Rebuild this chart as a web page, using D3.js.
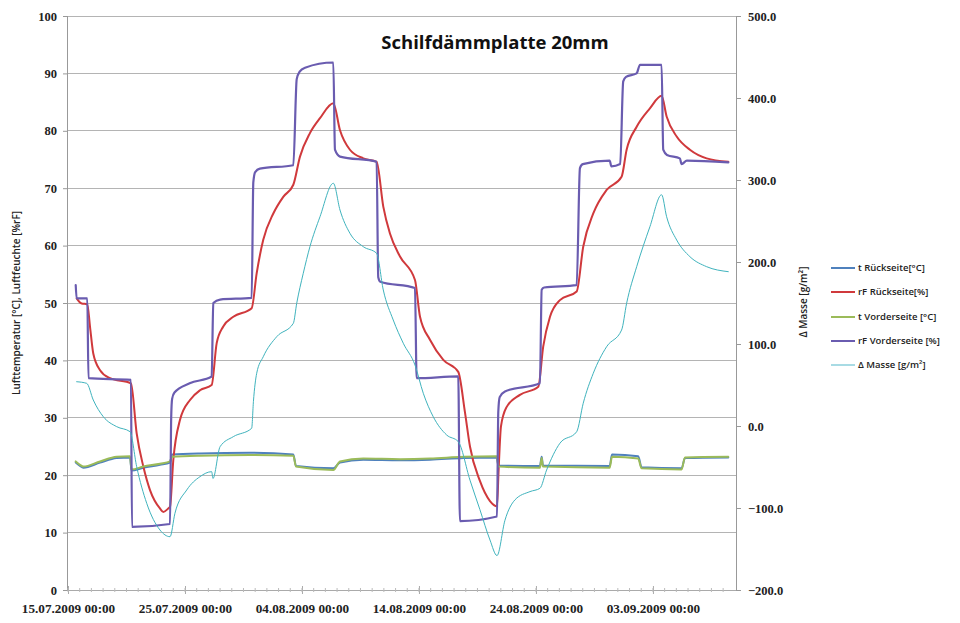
<!DOCTYPE html>
<html>
<head>
<meta charset="utf-8">
<script src="https://cdn.jsdelivr.net/npm/d3@7"></script>
<style>
  html, body { margin: 0; padding: 0; background: #fff; }
  svg { display: block; }
</style>
</head>
<body>
<svg id="chart" width="960" height="623"></svg>
<script>
// ---------------- DATA ----------------
const title = "Schilfdämmplatte 20mm";
const startDay = "2009-07-15";
const xTickDays = [0, 10, 20, 30, 40, 50];
const leftTicks = [0, 10, 20, 30, 40, 50, 60, 70, 80, 90, 100];
const rightTicks = [-200, -100, 0, 100, 200, 300, 400, 500];
const seriesNames = ["t Rückseite[°C]", "rF Rückseite[%]", "t Vorderseite [°C]", "rF Vorderseite [%]", "Δ Masse [g/m²]"];

// rF Vorderseite [%]
const rfV_days = [0.66,0.74,1.65,1.75,5.38,5.47,8.72,8.82,8.9,9.1,10.4,12.28,12.42,13.0,15.7,15.84,16.0,16.4,19.26,19.55,19.8,20.26,22.68,22.82,23.25,26.38,26.52,26.7,29.66,29.8,33.36,33.5,36.67,36.78,36.9,37.35,40.34,40.49,40.7,43.48,43.76,44.0,46.3,46.45,47.2,47.46,47.7,48.6,48.9,50.74,50.88,51.2,52.3,52.45,52.9,56.44];
const rfV_vals = [53.1,50.8,50.8,36.9,36.6,11.0,11.5,30.0,33.3,34.4,36.0,37.2,50.0,50.6,50.9,71.0,72.8,73.4,74.0,89.0,90.3,91.0,91.9,76.7,75.5,74.6,54.5,53.7,52.6,36.9,37.2,12.0,12.8,31.0,33.6,34.6,36.0,52.3,52.7,53.1,73.5,74.2,74.8,73.8,74.2,88.6,89.4,90.0,91.5,91.5,76.7,75.8,75.2,74.2,74.8,74.5];

// rF Rückseite [%]
const rfR_days = [0.74,1.17,1.65,1.88,2.16,2.74,3.59,5.38,5.87,6.44,7.01,7.86,8.15,8.57,8.72,9.0,9.57,10.43,11.28,12.28,12.71,13.27,14.13,15.7,16.13,16.69,17.55,18.4,19.26,19.83,20.68,21.54,22.68,23.25,24.1,25.24,26.38,26.95,27.52,28.38,29.66,30.09,30.94,32.08,33.36,33.93,34.36,35.21,36.07,36.67,36.8,37.01,37.5,38.63,40.2,40.62,41.2,42.05,43.48,44.04,44.9,46.04,47.32,47.75,48.61,49.74,50.74,51.17,52.03,53.16,54.59,56.44];
const rfR_vals = [50.8,49.9,49.8,45.9,41.2,38.3,36.9,36.0,27.3,21.5,17.4,14.2,13.6,14.2,14.5,22.6,29.6,33.1,34.8,35.7,43.0,45.9,47.6,49.1,55.2,61.0,65.6,68.5,70.6,75.5,79.6,82.2,84.8,80.1,76.7,75.2,74.6,66.8,62.1,58.1,54.0,47.6,43.6,40.1,38.0,31.0,25.0,19.0,15.5,14.6,20.5,28.5,31.9,34.0,35.4,42.4,47.6,50.5,52.0,59.8,65.6,69.7,72.0,76.7,80.7,83.9,86.1,82.5,79.0,76.7,75.2,74.6];

// t Vorderseite [°C]
const tV_days = [0.66,1.03,1.31,2.74,4.16,5.3,5.43,6.44,7.86,8.72,8.89,11.28,15.56,19.26,19.49,22.68,23.25,25.24,28.38,30.94,33.79,36.64,36.8,40.34,40.49,40.6,46.3,46.5,48.74,49.03,52.45,52.74,56.44];
const tV_vals = [22.4,21.8,21.5,22.4,23.2,23.3,21.0,21.5,22.0,22.4,23.2,23.4,23.5,23.4,21.5,20.9,22.4,22.9,22.8,22.9,23.2,23.3,21.5,21.3,23.0,21.5,21.3,23.2,22.9,21.2,21.0,23.1,23.2];

// t Rückseite [°C]
const tR_days = [0.66,1.03,1.31,2.74,4.16,5.3,5.43,6.44,7.86,8.72,8.89,11.28,15.56,19.26,19.49,22.68,23.25,25.24,28.38,30.94,33.79,36.64,36.8,40.34,40.49,40.6,46.3,46.5,48.74,49.03,52.45,52.74,56.44];
const tR_vals = [22.2,21.6,21.3,22.2,23.0,23.1,20.8,21.3,21.8,22.2,23.6,23.8,23.9,23.6,21.6,21.2,22.2,22.7,22.6,22.7,23.0,23.1,21.7,21.6,23.2,21.7,21.6,23.6,23.3,21.4,21.2,23.0,23.1];

// Δ Masse [g/m²]
const dm_days = [0.74,1.6,2.16,3.02,4.16,5.3,5.87,6.73,7.86,8.72,9.14,10.15,11.28,12.28,12.39,13.0,14.13,15.7,15.85,16.13,16.69,17.84,19.26,19.55,20.11,20.68,21.54,22.68,23.25,24.1,25.24,26.38,26.95,27.8,28.66,29.66,30.37,31.22,32.37,33.36,34.36,35.21,36.07,36.67,37.35,38.21,39.49,40.34,40.91,42.05,43.48,44.04,44.9,46.04,47.32,47.75,48.61,49.74,50.74,51.17,52.03,53.16,54.59,56.44];
const dm_vals = [54.0,52.0,31.7,11.3,-0.8,-6.9,-49.6,-94.3,-126.8,-135,-106.5,-78,-61.8,-55.7,-64,-25.2,-13,-2.8,30,64.3,84.5,108.9,125.2,149.6,186.2,218.7,255.2,296.0,263.4,235,218.7,210.6,165.9,129.3,100.9,74.4,39.9,11.3,-11,-19.1,-66,-102,-139,-158,-115,-90,-80,-76,-53.7,-21,-7,27.7,64.3,96.7,117,149.6,194.3,243,282,255.2,226.8,206.5,194.3,188.2];

// ---------------- CHART ----------------
const svg = d3.select("#chart");
const plot = { left: 68, right: 736, top: 16, bottom: 590 };
const t0 = Date.UTC(2009, 6, 15);
const dayMs = 864e5;
const toDate = d => new Date(t0 + d * dayMs);

const x = d3.scaleUtc().domain([toDate(0), toDate(57.1)]).range([plot.left, plot.right]);
const yL = d3.scaleLinear().domain([0, 100]).range([plot.bottom, plot.top]);
const yR = d3.scaleLinear().domain([-200, 500]).range([plot.bottom, plot.top]);

const colors = {
  tR: "#4f81bd",
  rfR: "#d0393c",
  tV: "#9bbb59",
  rfV: "#6a5cb0",
  dm: "#3fb3bd"
};
const tickFont = "'Liberation Serif', serif";
const sansFont = "'Open Sans', 'Noto Sans', sans-serif";

// gridlines
svg.append("g").selectAll("line").data(leftTicks.filter(v => v > 0)).join("line")
  .attr("x1", plot.left).attr("x2", plot.right)
  .attr("y1", d => yL(d)).attr("y2", d => yL(d))
  .attr("stroke", "#b4b4b4").attr("stroke-width", 1).attr("shape-rendering", "crispEdges");

// left axis
const gL = svg.append("g").attr("transform", `translate(${plot.left},0)`)
  .call(d3.axisLeft(yL).tickValues(leftTicks).tickSize(5).tickPadding(6).tickFormat(d3.format("d")));
gL.select(".domain").attr("stroke", "#999").attr("d", `M-0.5,${plot.top}V${plot.bottom}`);
gL.selectAll(".tick line").attr("stroke", "#999");
gL.selectAll("text").attr("font-family", tickFont).attr("font-weight", "bold").attr("font-size", 12.5).attr("fill", "#222");

// right axis
const gR = svg.append("g").attr("transform", `translate(${plot.right},0)`)
  .call(d3.axisRight(yR).tickValues(rightTicks).tickSize(5).tickPadding(7).tickFormat(d3.format(".1f")));
gR.select(".domain").attr("stroke", "#999").attr("d", `M0.5,${plot.top}V${plot.bottom}`);
gR.selectAll(".tick line").attr("stroke", "#999");
gR.selectAll("text").attr("font-family", tickFont).attr("font-weight", "bold").attr("font-size", 12.5).attr("fill", "#222");

// bottom axis
const fmt = d3.utcFormat("%d.%m.%Y %H:%M");
const gB = svg.append("g").attr("transform", `translate(0,${plot.bottom})`)
  .call(d3.axisBottom(x).tickValues(xTickDays.map(toDate)).tickSize(4).tickPadding(10).tickFormat(fmt));
gB.select(".domain").attr("stroke", "#aaa").attr("d", `M${plot.left},0.5H${plot.right}`);
gB.selectAll(".tick line").attr("stroke", "#aaa").attr("y1", -4);
gB.selectAll("text").attr("font-family", tickFont).attr("font-weight", "bold").attr("font-size", 13.2).attr("fill", "#222");
// minor daily ticks
const minorDays = d3.range(0, 57, 1);
svg.append("g").selectAll("line").data(minorDays).join("line")
  .attr("x1", d => x(toDate(d))).attr("x2", d => x(toDate(d)))
  .attr("y1", plot.bottom - 2).attr("y2", plot.bottom + 2)
  .attr("stroke", "#bbb").attr("stroke-width", 1);

// lines
const mk = (days, vals) => days.map((d, i) => ({ t: toDate(d), v: vals[i] }));
const lineL = d3.line().x(d => x(d.t)).y(d => yL(d.v)).curve(d3.curveMonotoneX);
const lineR = d3.line().x(d => x(d.t)).y(d => yR(d.v)).curve(d3.curveMonotoneX);

const g = svg.append("g").attr("fill", "none").attr("stroke-linejoin", "round").attr("stroke-linecap", "round");
g.append("path").datum(mk(tR_days, tR_vals)).attr("d", lineL).attr("stroke", colors.tR).attr("stroke-width", 2);
g.append("path").datum(mk(rfR_days, rfR_vals)).attr("d", lineL).attr("stroke", colors.rfR).attr("stroke-width", 2);
g.append("path").datum(mk(tV_days, tV_vals)).attr("d", lineL).attr("stroke", colors.tV).attr("stroke-width", 2);
g.append("path").datum(mk(rfV_days, rfV_vals)).attr("d", lineL).attr("stroke", colors.rfV).attr("stroke-width", 2.2);
g.append("path").datum(mk(dm_days, dm_vals)).attr("d", lineR).attr("stroke", colors.dm).attr("stroke-width", 1);

// title
svg.append("text").attr("x", 495).attr("y", 49).attr("text-anchor", "middle")
  .attr("font-family", sansFont).attr("font-weight", "bold").attr("font-size", 18.5).attr("fill", "#111")
  .text(title);

// axis titles
svg.append("text").attr("transform", "translate(20,303) rotate(-90)").attr("text-anchor", "middle")
  .attr("font-family", sansFont).attr("font-weight", 600).attr("font-size", 10).attr("fill", "#222")
  .text("Lufttemperatur [°C], Luftfeuchte [%rF]");
svg.append("text").attr("transform", "translate(807,302) rotate(-90)").attr("text-anchor", "middle")
  .attr("font-family", sansFont).attr("font-weight", 600).attr("font-size", 10).attr("fill", "#222")
  .text("Δ Masse [g/m²]");

// legend
const legColors = [colors.tR, colors.rfR, colors.tV, colors.rfV, "#a8dbe4"];
const legY = [268, 292, 317, 341, 365];
const leg = svg.append("g");
seriesNames.forEach((name, i) => {
  leg.append("line").attr("x1", 831).attr("x2", 855).attr("y1", legY[i]).attr("y2", legY[i])
    .attr("stroke", legColors[i]).attr("stroke-width", 2);
  leg.append("text").attr("x", 858).attr("y", legY[i]).attr("dy", "0.35em")
    .attr("font-family", sansFont).attr("font-weight", 600).attr("font-size", 9.5).attr("fill", "#222")
    .text(name);
});
</script>
</body>
</html>
